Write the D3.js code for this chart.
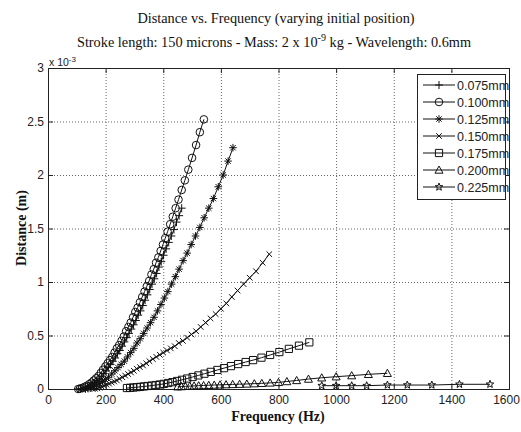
<!DOCTYPE html>
<html>
<head>
<meta charset="utf-8">
<script src="https://cdn.jsdelivr.net/npm/d3@7"></script>
<style>
body { margin: 0; background: #fff; }
svg { display: block; }
.tick text, .lbl { font-family: "Liberation Sans Narrow", "Liberation Sans", Arial, sans-serif; font-size: 12px; fill: #222; }
.ttl { font-family: "Liberation Serif", "Times New Roman", serif; font-size: 14.3px; fill: #111; }
.axlbl { font-family: "Liberation Serif", "Times New Roman", serif; font-size: 14px; font-weight: bold; fill: #111; }
</style>
</head>
<body>
<div id="chart"></div>
<script>
// frequency (Hz) and distance (x 1e-3 m)
var f075 = [105,113,121,129,137,145,153,161,169,177,185,193,201,209,217,225,233,241,249,257,265,273,281,289,297,305,313,321,329,337,345,353,361,369,377,385,393,401,410,419,428,437,446,455,464];
var d075 = [0,0.002,0.005,0.01,0.02,0.03,0.045,0.06,0.08,0.10,0.12,0.145,0.17,0.20,0.23,0.26,0.29,0.33,0.36,0.40,0.44,0.48,0.52,0.56,0.60,0.64,0.69,0.73,0.78,0.83,0.88,0.93,0.98,1.03,1.08,1.14,1.19,1.25,1.31,1.37,1.43,1.49,1.56,1.62,1.69];

var f100 = [105,111,119,127,135,143,151,159,167,175,183,191,199,207,215,223,231,239,247,255,263,271,279,287,295,303,311,319,327,335,343,351,359,367,375,383,391,399,407,415,424,433,443,453,464,475,487,500,514,527,541];
var d100 = [0,0.004,0.01,0.02,0.03,0.045,0.06,0.08,0.10,0.12,0.15,0.18,0.21,0.24,0.27,0.30,0.34,0.38,0.41,0.45,0.49,0.54,0.58,0.62,0.67,0.72,0.76,0.81,0.86,0.91,0.96,1.01,1.07,1.12,1.18,1.23,1.29,1.35,1.41,1.47,1.54,1.61,1.69,1.77,1.86,1.95,2.05,2.16,2.28,2.40,2.52];

var f125 = [130,139,149,159,169,179,189,199,210,221,232,243,254,265,276,287,298,309,320,332,344,356,368,380,392,404,416,429,442,455,469,483,497,512,527,542,558,574,591,608,625,642];
var d125 = [0,0.004,0.01,0.02,0.035,0.05,0.07,0.09,0.11,0.14,0.17,0.20,0.23,0.26,0.30,0.34,0.38,0.43,0.47,0.52,0.57,0.62,0.67,0.73,0.79,0.85,0.91,0.98,1.05,1.12,1.20,1.27,1.35,1.43,1.51,1.60,1.69,1.78,1.89,2.00,2.13,2.255];

var f150 = [155,163,171,179,187,195,203,212,221,230,239,248,258,268,278,288,298,308,319,330,341,352,364,376,388,400,413,426,440,454,468,483,498,514,530,547,564,582,600,619,638,658,679,700,722,745,768];
var d150 = [0,0.002,0.006,0.012,0.02,0.03,0.04,0.05,0.06,0.07,0.08,0.095,0.11,0.125,0.14,0.155,0.17,0.19,0.205,0.22,0.24,0.26,0.28,0.30,0.32,0.34,0.36,0.38,0.40,0.43,0.45,0.48,0.51,0.54,0.58,0.62,0.66,0.70,0.75,0.80,0.86,0.92,0.98,1.04,1.10,1.18,1.26];

var f175 = [274,285,296,308,320,333,346,360,374,388,402,417,432,448,465,483,502,522,543,565,588,611,635,660,686,712,741,771,803,836,871,907];
var d175 = [0.009,0.011,0.014,0.017,0.020,0.024,0.028,0.032,0.037,0.042,0.048,0.056,0.064,0.075,0.086,0.098,0.112,0.127,0.143,0.160,0.178,0.195,0.214,0.233,0.252,0.270,0.293,0.318,0.345,0.375,0.405,0.436];

var f200 = [450,463,477,492,507,523,540,558,577,597,618,641,665,690,716,742,771,800,829,863,904,950,1000,1054,1112,1178];
var d200 = [0.021,0.023,0.025,0.027,0.029,0.031,0.033,0.035,0.037,0.039,0.041,0.043,0.045,0.047,0.050,0.053,0.057,0.062,0.070,0.080,0.093,0.105,0.115,0.125,0.137,0.147];

var f225 = [950,1000,1054,1106,1178,1247,1332,1428,1534];
var d225 = [0.031,0.031,0.031,0.031,0.037,0.037,0.037,0.044,0.044];

var labels = ["0.075mm","0.100mm","0.125mm","0.150mm","0.175mm","0.200mm","0.225mm"];
var markers = ["plus","circle","asterisk","cross","square","triangle","star"];
var freqs = [f075,f100,f125,f150,f175,f200,f225];
var dists = [d075,d100,d125,d150,d175,d200,d225];

var xTicks = [0,200,400,600,800,1000,1200,1400,1600];
var yTicks = [0,0.5,1,1.5,2,2.5,3];

var W = 521, H = 432;
var plot = {left: 48, right: 509, top: 68, bottom: 389};

var x = d3.scaleLinear().domain([0,1600]).range([plot.left, plot.right]);
var y = d3.scaleLinear().domain([0,3]).range([plot.bottom, plot.top]);

var svg = d3.select("#chart").append("svg").attr("width", W).attr("height", H);

//dotted grid
svg.append("g").selectAll("line").data(xTicks.slice(1, -1)).enter().append("line")
  .attr("x1", function (d) { return x(d) + 0.5; }).attr("x2", function (d) { return x(d) + 0.5; })
  .attr("y1", plot.top).attr("y2", plot.bottom)
  .attr("stroke", "#666").attr("stroke-dasharray", "1,2");
svg.append("g").selectAll("line").data(yTicks.slice(1, -1)).enter().append("line")
  .attr("y1", function (d) { return y(d) + 0.5; }).attr("y2", function (d) { return y(d) + 0.5; })
  .attr("x1", plot.left).attr("x2", plot.right)
  .attr("stroke", "#666").attr("stroke-dasharray", "1,2");

//axes, ticks inside like matlab
var xAxis = d3.axisBottom(x).tickValues(xTicks).tickFormat(d3.format("d")).tickSizeInner(-5).tickSizeOuter(0).tickPadding(6);
var yAxis = d3.axisLeft(y).tickValues(yTicks).tickFormat(function (d) { return d; }).tickSizeInner(-5).tickSizeOuter(0).tickPadding(4);
var xg = svg.append("g").attr("transform", "translate(0," + plot.bottom + ")").call(xAxis);
//keep the last label inside the window
xg.selectAll(".tick text").filter(function (d) { return d === 1600; }).attr("dx", -3);
svg.append("g").attr("transform", "translate(" + plot.left + ",0)").call(yAxis);
svg.append("g").attr("transform", "translate(0," + plot.top + ")")
  .call(d3.axisTop(x).tickValues(xTicks).tickSizeInner(-5).tickSizeOuter(0).tickFormat(""));
svg.append("g").attr("transform", "translate(" + plot.right + ",0)")
  .call(d3.axisRight(y).tickValues(yTicks).tickSizeInner(-5).tickSizeOuter(0).tickFormat(""));
svg.selectAll(".domain").remove();
svg.selectAll(".tick line").attr("stroke", "#222");

svg.append("rect").attr("x", plot.left + 0.5).attr("y", plot.top + 0.5)
  .attr("width", plot.right - plot.left).attr("height", plot.bottom - plot.top)
  .attr("fill", "none").attr("stroke", "#222");

//exponent note
var ex = svg.append("text").attr("class", "lbl").attr("x", 49).attr("y", 66).style("font-size", "10.5px").text("x 10");
ex.append("tspan").attr("dy", -4).style("font-size", "8px").text("-3");

//marker shapes
function markerPath(type) {
  var s;
  if (type === "plus") { s = 4; return "M" + -s + ",0H" + s + "M0," + -s + "V" + s; }
  if (type === "cross") { s = 2.8; return "M" + -s + "," + -s + "L" + s + "," + s + "M" + -s + "," + s + "L" + s + "," + -s; }
  if (type === "asterisk") {
    s = 3.8; var t = 2.7;
    return "M" + -s + ",0H" + s + "M0," + -s + "V" + s + "M" + -t + "," + -t + "L" + t + "," + t + "M" + -t + "," + t + "L" + t + "," + -t;
  }
  if (type === "square") { s = 3.6; return "M" + -s + "," + -s + "h" + 2 * s + "v" + 2 * s + "h" + -2 * s + "Z"; }
  if (type === "triangle") { s = 4; return "M0," + -s + "L" + s + "," + s * 0.8 + "L" + -s + "," + s * 0.8 + "Z"; }
  if (type === "circle") { s = 3.8; return "M" + s + ",0A" + s + "," + s + " 0 1,1 " + -s + ",0A" + s + "," + s + " 0 1,1 " + s + ",0Z"; }
  //pentagram
  var pts = [];
  for (var i = 0; i < 10; i++) {
    var r = i % 2 === 0 ? 4 : 1.7;
    var a = -Math.PI / 2 + i * Math.PI / 5;
    pts.push([r * Math.cos(a), r * Math.sin(a)]);
  }
  return "M" + pts.join("L") + "Z";
}

var line = d3.line().x(function (d) { return x(d[0]); }).y(function (d) { return y(d[1]); });

labels.forEach(function (lab, i) {
  var pts = freqs[i].map(function (f, j) { return [f, dists[i][j]]; });
  var g = svg.append("g").attr("class", "series");
  g.append("path").attr("d", line(pts)).attr("fill", "none").attr("stroke", "#111").attr("stroke-width", 1);
  g.selectAll(".mk").data(pts).enter().append("path").attr("class", "mk")
    .attr("d", markerPath(markers[i]))
    .attr("transform", function (d) { return "translate(" + x(d[0]) + "," + y(d[1]) + ")"; })
    .attr("fill", "none").attr("stroke", "#111").attr("stroke-width", 1);
});

//legend
var lg = svg.append("g");
lg.append("rect").attr("x", 417.5).attr("y", 74.5).attr("width", 88).attr("height", 125)
  .attr("fill", "#fff").attr("stroke", "#222");
labels.forEach(function (lab, i) {
  var ly = 85 + i * 17;
  lg.append("line").attr("x1", 423).attr("x2", 455).attr("y1", ly).attr("y2", ly).attr("stroke", "#111");
  lg.append("path").attr("d", markerPath(markers[i])).attr("transform", "translate(439," + ly + ")")
    .attr("fill", "none").attr("stroke", "#111");
  lg.append("text").attr("class", "lbl").attr("x", 457).attr("y", ly + 4.5).style("font-size", "12.5px").text(lab);
});

//titles
svg.append("text").attr("class", "ttl").attr("x", 276).attr("y", 23).attr("text-anchor", "middle")
  .text("Distance vs. Frequency (varying initial position)");
var sub = svg.append("text").attr("class", "ttl").attr("x", 274).attr("y", 47).attr("text-anchor", "middle");
sub.append("tspan").text("Stroke length: 150 microns - Mass: 2 x 10");
sub.append("tspan").attr("dy", -6).style("font-size", "10px").text("-9");
sub.append("tspan").attr("dy", 6).text(" kg - Wavelength: 0.6mm");

svg.append("text").attr("class", "axlbl").attr("x", 278).attr("y", 421).attr("text-anchor", "middle").text("Frequency (Hz)");
svg.append("text").attr("class", "axlbl").attr("transform", "translate(26,228) rotate(-90)").attr("text-anchor", "middle").text("Distance (m)");
</script>
</body>
</html>
